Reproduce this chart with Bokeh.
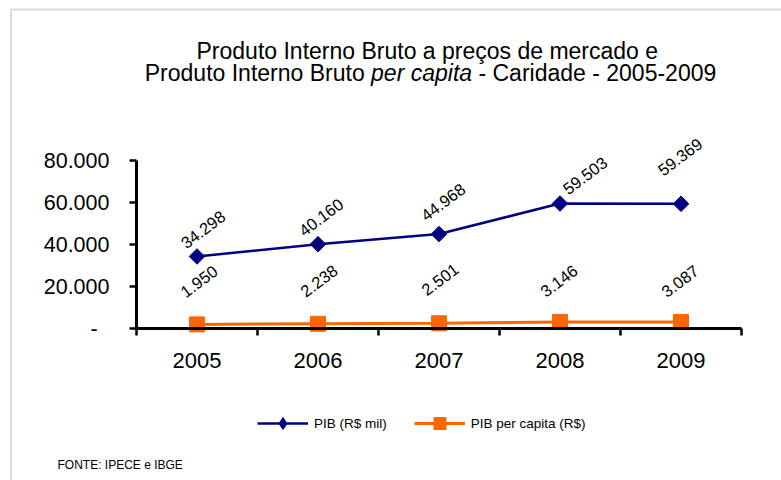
import math
from bokeh.plotting import figure
from bokeh.models import (Range1d, FixedTicker, LabelSet, Label, Legend, LegendItem,
                          ColumnDataSource, BoxAnnotation)
from bokeh.core.properties import value
from bokeh.embed import file_html
from bokeh.resources import INLINE

# ---------------- data ----------------
years = ["2005", "2006", "2007", "2008", "2009"]
pib = [34298, 40160, 44968, 59503, 59369]
pib_pc = [1950, 2238, 2501, 3146, 3087]
pib_labels = ["34.298", "40.160", "44.968", "59.503", "59.369"]
pc_labels = ["1.950", "2.238", "2.501", "3.146", "3.087"]
y_ticks = [0, 20000, 40000, 60000, 80000]
y_tick_labels = ["-\u00a0\u00a0", "20.000", "40.000", "60.000", "80.000"]
series_names = ["PIB (R$ mil)", "PIB per capita (R$)"]

title_line1 = "Produto Interno Bruto a preços de mercado  e"
title_line2_a = "Produto Interno Bruto"
title_line2_b = "per capita"
title_line2_c = "- Caridade - 2005-2009"
source_note = "FONTE: IPECE e IBGE"

# ---------------- style / layout ----------------
# data-label offsets in pixels (right, up)
pib_dx = [6, 3, 4, 25, -1]
pib_dy = [27, 27, 32, 28, 47]
pc_dx = [2, 1, 1, -1, -1]
pc_dy = [43, 43, 44, 41, 41]

NAVY = "#000080"
ORANGE = "#FF6600"
FONT = "Liberation Sans"

W, H = 781, 480
# plot-area pixel box inside the canvas
PX0, PX1, PY_TOP, PY_BOT = 136, 741, 160, 328

n = len(years)
ymax = y_ticks[-1]
xs = n / (PX1 - PX0)              # data units per pixel (x)
ys = ymax / (PY_BOT - PY_TOP)     # data units per pixel (y)
x_range = Range1d(-PX0 * xs, n + (W - PX1) * xs)
y_range = Range1d(-(H - PY_BOT) * ys, ymax + PY_TOP * ys)

x = [i + 0.5 for i in range(n)]

p = figure(width=W, height=H, output_backend="svg", toolbar_location=None,
           x_range=x_range, y_range=y_range, min_border=0)
p.grid.visible = False
p.outline_line_color = None
p.background_fill_color = "white"
p.border_fill_color = "white"

# x axis
xa = p.xaxis[0]
xa.fixed_location = 0
xa.bounds = (0, n)
xa.ticker = FixedTicker(ticks=x, minor_ticks=list(range(n + 1)))
xa.major_label_overrides = {xi: yr for xi, yr in zip(x, years)}
xa.major_tick_line_color = None
xa.major_tick_out = 0
xa.major_tick_in = 0
xa.minor_tick_out = 7
xa.minor_tick_in = 0
xa.minor_tick_line_color = "black"
xa.minor_tick_line_width = 2.5
xa.axis_line_color = "black"
xa.axis_line_width = 3
xa.major_label_text_font = FONT
xa.major_label_text_font_size = "22px"
xa.major_label_text_color = "black"
xa.major_label_standoff = 17

# y axis
ya = p.yaxis[0]
ya.fixed_location = 0
ya.bounds = (0, ymax)
ya.ticker = FixedTicker(ticks=y_ticks, minor_ticks=[])
ya.major_label_overrides = {t: s for t, s in zip(y_ticks, y_tick_labels)}
ya.major_tick_out = 7
ya.major_tick_in = 0
ya.major_tick_line_color = "black"
ya.major_tick_line_width = 2.5
ya.axis_line_color = "black"
ya.axis_line_width = 3
ya.major_label_text_font = FONT
ya.major_label_text_font_size = "21.5px"
ya.major_label_text_color = "black"
ya.major_label_standoff = 20

src = ColumnDataSource(dict(x=x, pib=pib, pc=pib_pc, pib_lab=pib_labels,
                            pc_lab=pc_labels, pib_dx=pib_dx, pib_dy=pib_dy,
                            pc_dx=pc_dx, pc_dy=pc_dy))

l1 = p.line("x", "pib", source=src, line_color=NAVY, line_width=2.5)
m1_leg = p.scatter("x", "pib", source=src, marker="diamond", size=12,
                   fill_color=NAVY, line_color=NAVY)
m1 = p.scatter("x", "pib", source=src, marker="square", angle=math.pi / 4,
               size=11, fill_color=NAVY, line_color=NAVY)
l2 = p.line("x", "pc", source=src, line_color=ORANGE, line_width=3)
m2 = p.scatter("x", "pc", source=src, marker="square", size=15,
               fill_color=ORANGE, line_color=ORANGE)

ang = math.radians(37)
for ycol, tcol, dx, dy in [("pib", "pib_lab", "pib_dx", "pib_dy"),
                           ("pc", "pc_lab", "pc_dx", "pc_dy")]:
    p.add_layout(LabelSet(x="x", y=ycol, text=tcol, source=src,
                          x_offset=dx, y_offset=dy, angle=ang,
                          text_align="center", text_baseline="middle",
                          text_font=value(FONT), text_font_size=value("16.5px"),
                          text_color="black"))

legend = Legend(items=[LegendItem(label=series_names[0], renderers=[l1, m1_leg]),
                       LegendItem(label=series_names[1], renderers=[l2, m2])],
                orientation="horizontal", location=(257, 42),
                glyph_width=51, glyph_height=30, label_standoff=6, spacing=27,
                padding=0, margin=0, border_line_color=None,
                background_fill_alpha=0, label_text_font=FONT,
                label_text_font_size="13.5px", label_text_color="black")
p.add_layout(legend)

# ---- title (two lines, "per capita" italic) ----
AW = {'P': 667, 'r': 333, 'o': 556, 'd': 556, 'u': 556, 't': 278, ' ': 278,
      'I': 278, 'n': 556, 'e': 556, 'B': 667, 'p': 556, 'c': 500, 'a': 556,
      'i': 222, '-': 333, 'C': 722, '2': 556, '0': 556, '5': 556, '9': 556}


def tw(s, fs):
    return sum(AW.get(ch, 556) for ch in s) * fs / 1000.0


TFS = 23
cx = 430
p.add_layout(Label(x=cx, y=50, x_units="canvas", y_units="canvas",
                   text=title_line1, text_align="center",
                   text_baseline="alphabetic", text_font=FONT,
                   text_font_size=f"{TFS}px", text_color="black"))
wa = tw(title_line2_a, TFS)
wb = tw(title_line2_b, TFS)
wc = tw(title_line2_c, TFS)
wsp = tw(" ", TFS)
total = wa + wsp + wb + wsp + wc
x0 = cx - total / 2
for txt, xx, style in [(title_line2_a, x0, "normal"),
                       (title_line2_b, x0 + wa + wsp, "italic"),
                       (title_line2_c, x0 + wa + wsp + wb + wsp, "normal")]:
    p.add_layout(Label(x=xx, y=72, x_units="canvas", y_units="canvas",
                       text=txt, text_align="left", text_baseline="alphabetic",
                       text_font=FONT, text_font_style=style,
                       text_font_size=f"{TFS}px", text_color="black"))

p.add_layout(Label(x=57, y=464, x_units="canvas", y_units="canvas",
                   text=source_note, text_align="left",
                   text_baseline="alphabetic",
                   text_font="Liberation Sans Narrow, Liberation Sans",
                   text_font_size="12px", text_color="black"))

p.add_layout(BoxAnnotation(left=10.5, right=W + 20, top=9, bottom=H + 20,
                           left_units="canvas", right_units="canvas",
                           top_units="canvas", bottom_units="canvas",
                           fill_color=None, line_color="#858585",
                           line_width=2, level="overlay"))

open("out.html", "w").write(file_html(p, INLINE))
